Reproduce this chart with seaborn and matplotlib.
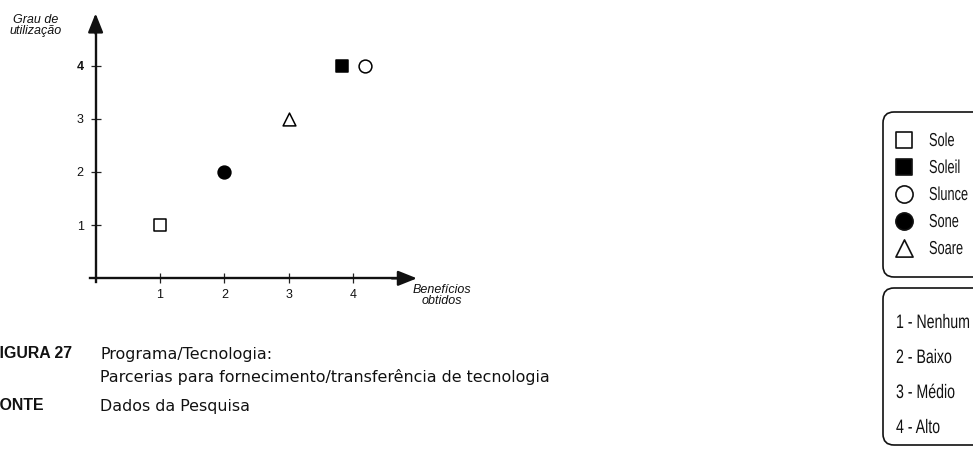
import numpy as np
import pandas as pd
import matplotlib
matplotlib.use("Agg")
import matplotlib.pyplot as plt
import matplotlib.patheffects as pe
from matplotlib.patches import FancyBboxPatch
from matplotlib.text import Text
from matplotlib.transforms import Affine2D, Bbox
import seaborn as sns

# --- data -------------------------------------------------------------
series = ["Sole", "Soleil", "Slunce", "Sone", "Soare"]
beneficios = [1, 4, 4, 2, 3]
utilizacao = [1, 4, 4, 2, 3]
tick_values = [1, 2, 3, 4]
niveis = ["1 - Nenhum", "2 - Baixo", "3 - Médio", "4 - Alto"]
y_label = ["Grau de", "utilização"]
x_label = ["Benefícios", "obtidos"]
figura = "FIGURA 27"
titulo = ["Programa/Tecnologia:",
          "Parcerias para fornecimento/transferência de tecnologia"]
fonte_rotulo = "FONTE"
fonte = "Dados da Pesquisa"

# --- styles -----------------------------------------------------------
markers = {"Sole": "s", "Soleil": "s", "Slunce": "o", "Sone": "o", "Soare": "^"}
fills = {"Sole": "white", "Soleil": "black", "Slunce": "white",
         "Sone": "black", "Soare": "white"}
sizes = {"s": 80, "o": 85, "^": 85}
INK = "#111111"

sns.set_theme(style="white")
plt.rcParams["font.family"] = ["Liberation Sans", "DejaVu Sans"]


class Stretch(pe.AbstractPathEffect):
    """Rescale glyph outlines about each line's left edge and baseline."""

    def __init__(self, sx, sy):
        super().__init__()
        self.sx, self.sy = sx, sy

    def draw_path(self, renderer, gc, tpath, affine, rgbFace=None):
        renderer.draw_path(gc, tpath,
                           Affine2D().scale(self.sx, self.sy) + affine,
                           rgbFace)


class CondensedText(Text):
    """Left-aligned text drawn tall and narrow, like a condensed face."""

    def __init__(self, *args, sx=0.9, sy=1.35, **kw):
        super().__init__(*args, **kw)
        self._sx = sx
        self.set_path_effects([Stretch(sx, sy)])

    def get_window_extent(self, renderer=None, dpi=None):
        bb = super().get_window_extent(renderer, dpi)
        return Bbox.from_extents(bb.x0, bb.y0,
                                 bb.x0 + bb.width * self._sx, bb.y1)


df = pd.DataFrame({"serie": series, "beneficios": beneficios,
                   "utilizacao": utilizacao})
# spread coincident points side by side so both stay visible
grp = df.groupby(["beneficios", "utilizacao"])
df["rank"] = grp.cumcount()
df["n"] = grp["serie"].transform("size")
df["x"] = df["beneficios"] + (df["rank"] - (df["n"] - 1) / 2) * 0.36

fig = plt.figure(figsize=(9.73, 4.5), dpi=100)
ax = fig.add_axes([0.0903, 0.3673, 0.3389, 0.6053])

for _, row in df.iterrows():
    m = markers[row["serie"]]
    sns.scatterplot(x=[row["x"]], y=[row["utilizacao"]], marker=m,
                    s=sizes[m], color=fills[row["serie"]], edgecolor="black",
                    linewidth=1.1, ax=ax, zorder=5, legend=False)

ax.set_xlim(-0.12, 5.0)
ax.set_ylim(-0.12, 5.0)
ax.set_xlabel("")
ax.set_ylabel("")
ax.patch.set_alpha(0)

for side in ("top", "right"):
    ax.spines[side].set_visible(False)
for side in ("left", "bottom"):
    ax.spines[side].set_position(("data", 0))
    ax.spines[side].set_linewidth(1.7)
    ax.spines[side].set_color(INK)
ax.spines["bottom"].set_bounds(-0.08, 4.8)
ax.spines["left"].set_bounds(-0.06, 4.8)

ax.set_xticks(tick_values)
ax.set_yticks(tick_values)
ax.tick_params(axis="both", direction="inout", length=7, width=0.9,
               color="#222222", labelsize=9, labelcolor=INK)
ax.tick_params(axis="x", pad=4)
ax.tick_params(axis="y", pad=5)
ax.tick_params(bottom=True, left=True)
for lbl in ax.get_yticklabels():
    if lbl.get_text() == "4":
        lbl.set_fontweight("bold")

arrow = dict(arrowstyle="-|>,head_length=0.95,head_width=0.38",
             color=INK, lw=1.7, shrinkA=0, shrinkB=0)
ax.annotate("", xy=(4.99, 0), xytext=(4.6, 0), arrowprops=arrow)
ax.annotate("", xy=(0, 4.98), xytext=(0, 4.6), arrowprops=arrow)

# --- overlay in pixel units for labels, captions and legends ----------
ov = fig.add_axes([0, 0, 1, 1])
ov.set_xlim(0, 973)
ov.set_ylim(450, 0)
ov.axis("off")
ov.patch.set_alpha(0)

lab = dict(ha="center", va="center", fontsize=9, style="italic", color=INK)
ov.text(36, 20, y_label[0], **lab)
ov.text(36, 31, y_label[1], **lab)
ov.text(442, 290, x_label[0], **lab)
ov.text(442, 301, x_label[1], **lab)

renderer = fig.canvas.get_renderer()


def text_width(s, **kw):
    t = ov.text(0, 0, s, **kw)
    w = t.get_window_extent(renderer).width
    t.remove()
    return w


def fit_width(txt, width_px):
    """Scale a text's font size so that its rendered width is width_px."""
    w = txt.get_window_extent(renderer).width
    txt.set_fontsize(txt.get_fontsize() * width_px / w)


cap = dict(fontsize=10.5, family="DejaVu Sans", va="center", color=INK)
t_line = ov.text(100, 377, titulo[1], ha="left", **cap)
fit_width(t_line, 450)
cap["fontsize"] = t_line.get_fontsize()
ov.text(100, 354, titulo[0], ha="left", **cap)
ov.text(100, 406, fonte, ha="left", **cap)

# the left-hand labels sit so their first letter falls past the page edge
bold_cap = dict(cap, fontweight="bold", family="Liberation Sans")
for word, yy in ((figura, 354), (fonte_rotulo, 406)):
    shift = text_width(word, **bold_cap) - text_width(word[1:], **bold_cap)
    ov.text(-shift, yy, word, ha="left", **bold_cap)

box_style = "round,pad=0,rounding_size=11"
ov.add_patch(FancyBboxPatch((883, 112), 150, 165, boxstyle=box_style,
                            fc="white", ec=INK, lw=1.2))
ov.add_patch(FancyBboxPatch((883, 288), 150, 157, boxstyle=box_style,
                            fc="white", ec=INK, lw=1.2))


def legend_text(x, y, s, size, sx):
    # glyphs grow upward from the baseline, so nudge down to stay centred
    t = CondensedText(x, y + 2, s, ha="left", va="center", fontsize=size,
                      family="Liberation Sans", color=INK, sx=sx, sy=1.35,
                      transform=ov.transData, clip_on=False)
    ov.add_artist(t)
    return t


leg_rows = [140, 167, 194, 221, 248]
for name, yy in zip(series, leg_rows):
    m = markers[name]
    ov.scatter([904], [yy], marker=m, s=sizes[m] * 1.8, c=fills[name],
               edgecolors=INK, linewidths=1.2, zorder=5)
    legend_text(929, yy, name, 10, 0.92)

for label, yy in zip(niveis, [322, 357, 392, 427]):
    legend_text(896, yy, label, 10.4, 0.98)

fig.savefig("out.png", dpi=100, facecolor="white")
